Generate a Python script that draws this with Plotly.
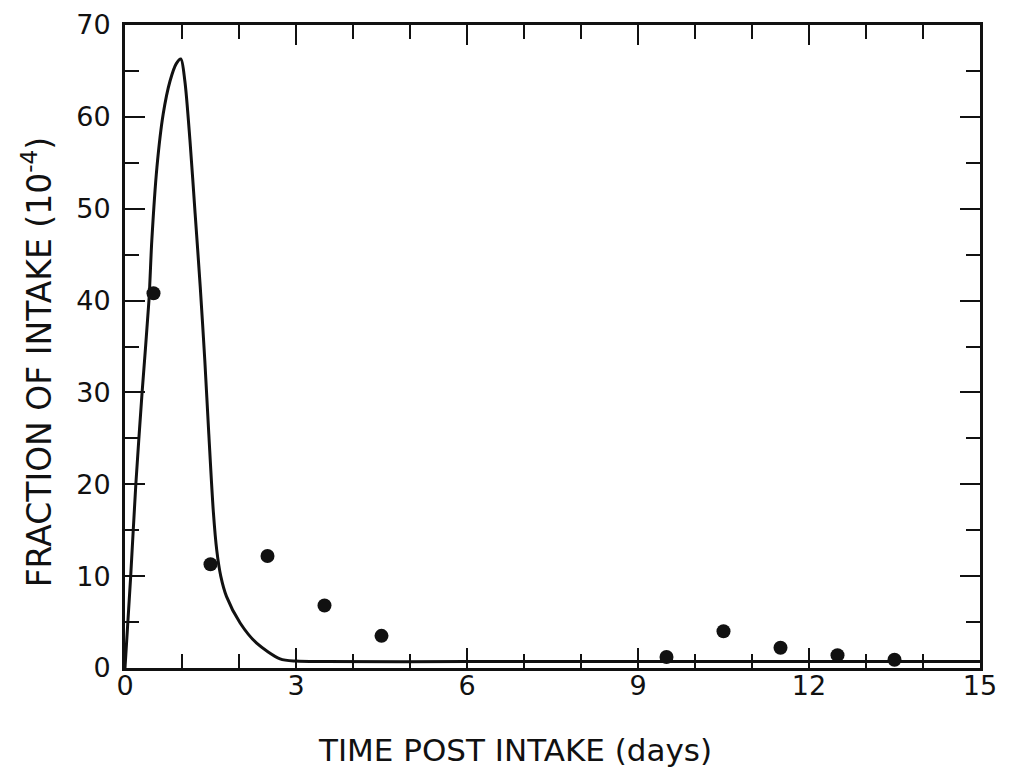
import plotly.graph_objects as go

# measured points (fraction of intake, 1e-4)
obs_days = [0.5, 1.5, 2.5, 3.5, 4.5, 9.5, 10.5, 11.5, 12.5, 13.5]
obs_frac = [40.8, 11.3, 12.2, 6.8, 3.5, 1.2, 4.0, 2.2, 1.4, 0.9]

# model curve
curve_days = [0.0, 0.10, 0.19, 0.30, 0.42, 0.47, 0.56, 0.67, 0.79, 0.90, 0.98,
              1.05, 1.14, 1.23, 1.32, 1.40, 1.47, 1.55, 1.61, 1.68, 1.78, 2.02,
              2.31, 2.72, 3.0, 3.5, 6.0, 9.0, 12.0, 15.0]
curve_frac = [0.0, 10.0, 20.0, 30.0, 40.0, 46.5, 54.5, 60.3, 63.9, 65.8, 66.3,
              63.9, 57.4, 49.5, 41.5, 33.5, 25.5, 17.0, 12.8, 10.0, 7.8, 4.9,
              2.7, 1.0, 0.75, 0.7, 0.7, 0.7, 0.7, 0.7]

x_ticks = [0, 3, 6, 9, 12, 15]
y_ticks = [0, 10, 20, 30, 40, 50, 60, 70]

FONT = "DejaVu Sans"
INK = "#111111"

fig = go.Figure()
fig.add_trace(go.Scatter(
    x=curve_days, y=curve_frac, mode="lines",
    line=dict(color=INK, width=3, shape="spline", smoothing=0.8),
    showlegend=False,
))
fig.add_trace(go.Scatter(
    x=obs_days, y=obs_frac, mode="markers",
    marker=dict(color=INK, size=14),
    showlegend=False,
))

axis_common = dict(
    showline=True, linecolor=INK, linewidth=3, mirror="allticks",
    ticks="inside", ticklen=20, tickwidth=2, tickcolor=INK,
    showgrid=False, zeroline=False, automargin=False,
    ticklabeloverflow="allow",
    tickfont=dict(family=FONT, size=27, color=INK),
)

fig.update_xaxes(
    range=[0, 15], tickvals=x_ticks, ticklabelstandoff=-8,
    minor=dict(dtick=1, ticks="inside", ticklen=14, tickwidth=2, tickcolor=INK),
    **axis_common,
)
fig.update_yaxes(
    range=[0, 70], tickvals=y_ticks, ticklabelstandoff=6,
    minor=dict(dtick=5, ticks="inside", ticklen=14, tickwidth=2, tickcolor=INK),
    **axis_common,
)

# axis titles as annotations so they sit where the original lettering is
fig.add_annotation(
    text="TIME POST INTAKE (days)", xref="paper", yref="paper",
    x=0.456, y=-0.128, xanchor="center", yanchor="middle", showarrow=False,
    font=dict(family=FONT, size=31, color=INK),
)
fig.add_annotation(
    text="FRACTION OF INTAKE (10<sup>-4</sup>)", xref="paper", yref="paper",
    x=-0.102, y=0.475, xanchor="center", yanchor="middle", showarrow=False,
    textangle=-90, font=dict(family=FONT, size=33, color=INK),
)

fig.update_layout(
    width=1001, height=760,
    margin=dict(l=117, r=29, t=17, b=100),
    paper_bgcolor="white", plot_bgcolor="white",
)

fig.write_html("out.html")
